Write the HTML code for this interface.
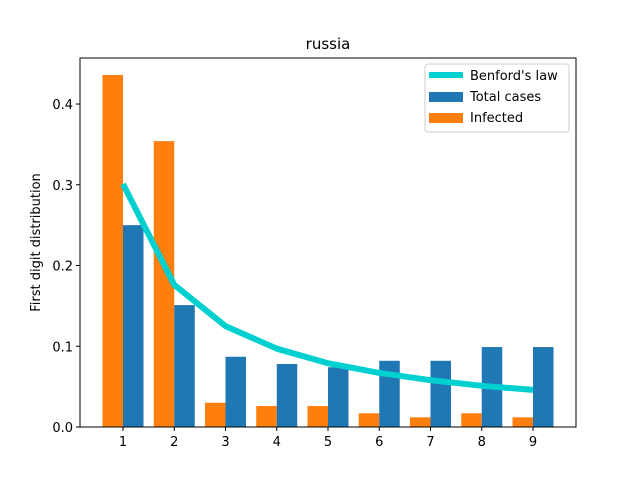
<!DOCTYPE html>
<html><head><meta charset="utf-8"><style>body{margin:0;background:#fff}svg text{font-family:"DejaVu Sans","Liberation Sans",sans-serif}</style></head>
<body>
<svg id="c" width="640" height="480" xmlns="http://www.w3.org/2000/svg"></svg>
<script>
const categories=[1,2,3,4,5,6,7,8,9];
const infected=[0.436,0.354,0.030,0.026,0.026,0.017,0.012,0.017,0.012];
const totalCases=[0.250,0.151,0.087,0.078,0.074,0.082,0.082,0.099,0.099];
const benford=[0.301,0.176,0.125,0.097,0.079,0.067,0.058,0.051,0.046];
const yTicks=[0.0,0.1,0.2,0.3,0.4];
const yTickLabels=["0.0","0.1","0.2","0.3","0.4"];
const svg=document.getElementById('c');
const NS='http://www.w3.org/2000/svg';
const L=80,R=576,T=58,B=427;
const xmin=0.161,xmax=9.839,ymin=0,ymax=0.457;
const xs=v=>L+(v-xmin)/(xmax-xmin)*(R-L);
const ys=v=>B-(v-ymin)/(ymax-ymin)*(B-T);
function mk(t,a,txt){const e=document.createElementNS(NS,t);for(const k in a)e.setAttribute(k,a[k]);if(txt!==undefined)e.textContent=txt;svg.appendChild(e);return e;}
categories.forEach((c,i)=>{
 let e=mk('rect',{x:xs(c-0.4),y:ys(infected[i]),width:xs(c)-xs(c-0.4),height:ys(0)-ys(infected[i]),fill:'#ff7f0e'});
 
 
 e=mk('rect',{x:xs(c),y:ys(totalCases[i]),width:xs(c+0.4)-xs(c),height:ys(0)-ys(totalCases[i]),fill:'#1f77b4'});
 
 
});
let pl=mk('polyline',{points:categories.map((c,i)=>xs(c)+','+ys(benford[i])).join(' '),fill:'none',stroke:'#00d0d0',"stroke-width":6,"stroke-linejoin":'round',"stroke-linecap":'butt'});


let fr=mk('rect',{x:L,y:T,width:R-L,height:B-T,fill:'none',stroke:'#000',"stroke-width":1});


categories.forEach(c=>{
 mk('line',{x1:xs(c),x2:xs(c),y1:B,y2:B+4,stroke:'#000'});
 let t=mk('text',{x:xs(c),y:B+19,"text-anchor":'middle',"font-size":13},String(c));
 
 
});
yTicks.forEach((v,i)=>{
 mk('line',{x1:L-4,x2:L,y1:ys(v),y2:ys(v),stroke:'#000'});
 let t=mk('text',{x:L-7,y:ys(v)+5,"text-anchor":'end',"font-size":13},yTickLabels[i]);
 
 
});
let ti=mk('text',{x:(L+R)/2,y:49,"text-anchor":'middle',"font-size":15},'russia');


let yl=mk('text',{x:40,y:(T+B)/2,"text-anchor":'middle',"font-size":13,transform:'rotate(-90 40 '+((T+B)/2)+')'},'First digit distribution');


let lg=mk('rect',{x:425,y:64,width:144,height:68,fill:'#fff',stroke:'#ccc',rx:3});


mk('line',{x1:429,x2:463,y1:75,y2:75,stroke:'#00d0d0',"stroke-width":6});
mk('rect',{x:429,y:92,width:34,height:10,fill:'#1f77b4'});
mk('rect',{x:429,y:113,width:34,height:10,fill:'#ff7f0e'});
[["Benford's law",80],["Total cases",101],["Infected",122]].forEach(a=>{
 let t=mk('text',{x:470,y:a[1],"font-size":13},a[0]);
 
 
});
</script>
</body></html>
